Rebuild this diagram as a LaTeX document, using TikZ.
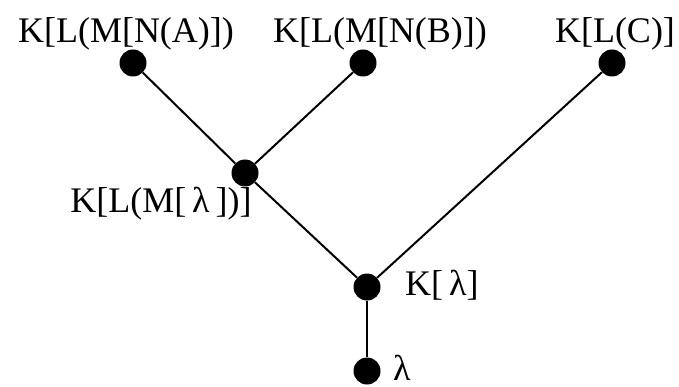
\documentclass[tikz,border=0pt]{standalone}
\usepackage{fontspec}
\setmainfont{Liberation Serif}
\usetikzlibrary{positioning}

\begin{document}
\begin{tikzpicture}[
    x = 1pt, y = -1pt,
    font = \fontsize{36}{40}\selectfont,
    dot/.style={
      circle,
      fill = black,
      minimum size = 27pt,
      inner sep = 0pt,
    },
    lbl/.style={inner sep = 0pt, anchor = base},
    edge/.style={line width = 2pt},
  ]
  \useasboundingbox (0,0) rectangle (679,387);
  % leaves
  \node[dot] (na) at (133,63) {};
  \node[dot] (nb) at (363,63) {};
  \node[dot] (nc) at (612,63) {};
  % inner nodes
  \node[dot] (nm) at (245,173) {};
  \node[dot] (nk) at (367,287) {};
  \node[dot] (nl) at (367,371) {};
  % labels
  \node[lbl] (ta) at (126,43) {K[L(M[N(A)])};
  \node[lbl] (tb) at (380,43) {K[L(M[N(B)])};
  \node[lbl] (tc) at (615,43) {K[L(C)]};
  \node[lbl] (tm) at (161,213) {K[L(M[\,λ\,])]};
  \node[lbl, anchor = base west] (tk) at (405,295) {K[\,λ]};
  \node[lbl, anchor = base west] (tl) at (393,380) {λ};
  \draw[edge] (na) -- (nm);
  \draw[edge] (nb) -- (nm);
  \draw[edge] (nm) -- (nk);
  \draw[edge] (nc) -- (nk);
  \draw[edge] (nk) -- (nl);
\end{tikzpicture}
\end{document}
